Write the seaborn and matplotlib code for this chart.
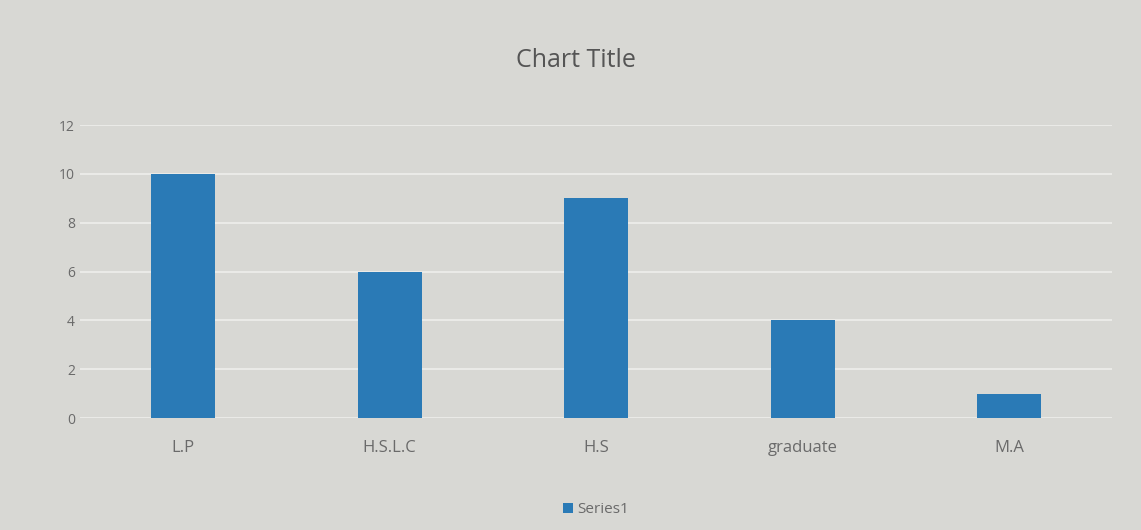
import pandas as pd
import seaborn as sns
import matplotlib.pyplot as plt

categories = ['L.P', 'H.S.L.C', 'H.S', 'graduate', 'M.A']
values = [10, 6, 9, 4, 1]
series = ['Series1'] * len(categories)

df = pd.DataFrame({'Level': categories, 'Count': values, 'Series': series})

sns.set_style('white')
plt.rcParams['font.family'] = ['Open Sans', 'DejaVu Sans']

bg = '#d8d8d4'
fig = plt.figure(figsize=(11.41, 5.3), dpi=100, facecolor=bg)
ax = fig.add_axes([0.07, 0.211, 0.905, 0.553], facecolor=bg)

sns.barplot(data=df, x='Level', y='Count', hue='Series', palette=['#2a7ab6'],
            width=0.31, saturation=1, edgecolor='none', linewidth=0, ax=ax)

ax.set_ylim(0, 12)
ax.set_yticks(range(0, 13, 2))
ax.yaxis.grid(True, color='#eeeeec', linewidth=1.2)
ax.set_axisbelow(True)
for s in ax.spines.values():
    s.set_visible(False)
ax.tick_params(axis='both', length=0, colors='#6a6a6a', labelsize=10)
ax.tick_params(axis='x', pad=16, labelsize=12)
ax.set_xlabel('')
ax.set_ylabel('')

fig.text(0.505, 0.885, 'Chart Title', ha='center', va='center',
         fontsize=18, color='#555555')

ax.legend(loc='upper center', bbox_to_anchor=(0.5, -0.24), frameon=False,
          fontsize=11, handlelength=0.6, handleheight=0.6, labelcolor='#6a6a6a',
          handletextpad=0.3)

fig.savefig('out.png', dpi=100, facecolor=bg)
